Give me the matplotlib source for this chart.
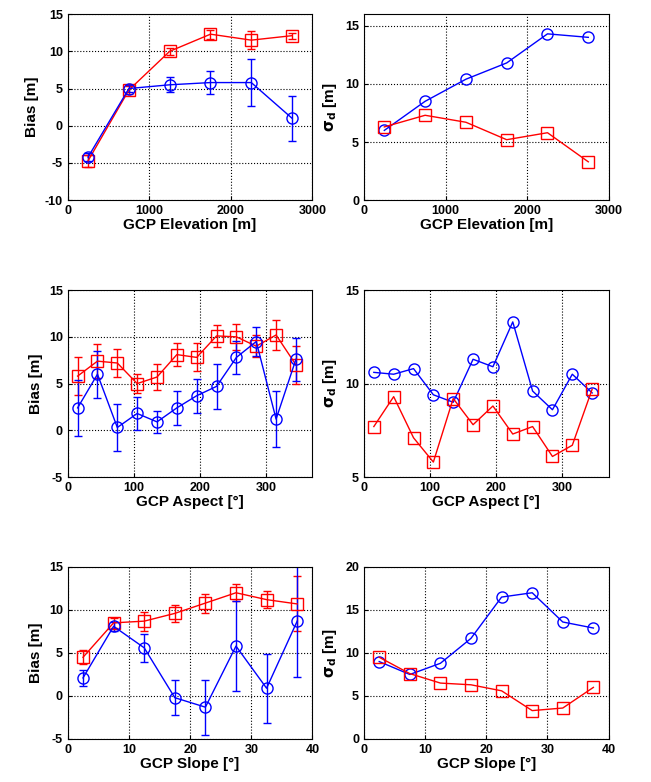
import matplotlib
matplotlib.use("Agg")
from matplotlib import pyplot as plt

plt.rcParams['font.family'] = ['Liberation Sans', 'DejaVu Sans']
plt.rcParams['font.size'] = 9
plt.rcParams['axes.unicode_minus'] = False

elev_x = [250, 750, 1250, 1750, 2250, 2750]
elev_red = [-4.7, 4.8, 10.0, 12.3, 11.5, 12.1]
elev_red_err = [0.8, 0.5, 0.5, 0.6, 1.2, 0.4]
elev_blue = [-4.2, 5.0, 5.5, 5.8, 5.8, 1.0]
elev_blue_err = [0.6, 0.5, 1.0, 1.5, 3.2, 3.0]
elev_sd_blue = [6.0, 8.5, 10.4, 11.8, 14.3, 14.0]
elev_sd_red = [6.3, 7.3, 6.7, 5.2, 5.8, 3.3]

asp_x = [15, 45, 75, 105, 135, 165, 195, 225, 255, 285, 315, 345]
asp_red = [5.8, 7.4, 7.2, 5.0, 5.7, 8.1, 7.8, 10.1, 10.0, 9.0, 10.2, 7.0]
asp_red_err = [2.0, 1.8, 1.5, 1.0, 1.4, 1.2, 1.5, 1.2, 1.4, 1.2, 1.6, 2.0]
asp_blue = [2.4, 6.0, 0.3, 1.8, 0.9, 2.4, 3.7, 4.7, 7.8, 9.5, 1.2, 7.6]
asp_blue_err = [3.0, 2.5, 2.5, 1.8, 1.2, 1.8, 1.8, 2.4, 1.8, 1.6, 3.0, 2.3]
asp_sd_blue = [10.6, 10.5, 10.8, 9.4, 9.0, 11.3, 10.9, 13.3, 9.6, 8.6, 10.5, 9.5]
asp_sd_red = [7.7, 9.3, 7.1, 5.8, 9.2, 7.8, 8.8, 7.3, 7.7, 6.1, 6.7, 9.7]

slp_x = [2.5, 7.5, 12.5, 17.5, 22.5, 27.5, 32.5, 37.5]
slp_red = [4.5, 8.5, 8.7, 9.6, 10.8, 12.0, 11.2, 10.7]
slp_red_err = [0.8, 0.6, 1.1, 1.0, 1.1, 1.0, 1.0, 3.2]
slp_blue = [2.1, 8.1, 5.6, -0.2, -1.3, 5.8, 0.9, 8.7]
slp_blue_err = [0.9, 0.5, 1.6, 2.0, 3.2, 5.2, 4.0, 6.5]
slp_sd_blue = [9.0, 7.5, 8.8, 11.7, 16.5, 17.0, 13.6, 12.9]
slp_sd_red = [9.5, 7.6, 6.5, 6.3, 5.6, 3.3, 3.6, 6.0]

fig = plt.figure(figsize=(6.51, 7.82), dpi=100)
rows = [(0.744, 0.238), (0.39, 0.239), (0.055, 0.22)]
cols = [0.104, 0.559]
w = 0.376


def style(ax, xlabel, ylabel, xlim, ylim, xticks, yticks):
    ax.set_xlim(xlim)
    ax.set_ylim(ylim)
    ax.set_xticks(xticks)
    ax.set_yticks(yticks)
    ax.grid(True, color='black', linestyle=':', linewidth=0.8)
    ax.set_xlabel(xlabel, fontsize=11, fontweight='bold', labelpad=1)
    ax.set_ylabel(ylabel, fontsize=11, fontweight='bold')
    for lbl in ax.get_xticklabels() + ax.get_yticklabels():
        lbl.set_fontweight('bold')
    ax.tick_params(direction='in', length=3)


def bias(ax, x, r, re, b, be):
    ax.errorbar(x, r, yerr=re, color='red', marker='s', mfc='none', ms=8, lw=1, capsize=3)
    ax.errorbar(x, b, yerr=be, color='blue', marker='o', mfc='none', ms=8, lw=1, capsize=3)


def sd(ax, x, r, b):
    ax.plot(x, b, color='blue', marker='o', mfc='none', ms=8, lw=1)
    ax.plot(x, r, color='red', marker='s', mfc='none', ms=8, lw=1)


sig = r'$\mathbf{\sigma_d}$ [m]'
ax = fig.add_axes([cols[0], rows[0][0], w, rows[0][1]])
bias(ax, elev_x, elev_red, elev_red_err, elev_blue, elev_blue_err)
style(ax, 'GCP Elevation [m]', 'Bias [m]', (0, 3000), (-10, 15), range(0, 3001, 1000), range(-10, 16, 5))
ax = fig.add_axes([cols[1], rows[0][0], w, rows[0][1]])
sd(ax, elev_x, elev_sd_red, elev_sd_blue)
style(ax, 'GCP Elevation [m]', sig, (0, 3000), (0, 16), range(0, 3001, 1000), range(0, 16, 5))

ax = fig.add_axes([cols[0], rows[1][0], w, rows[1][1]])
bias(ax, asp_x, asp_red, asp_red_err, asp_blue, asp_blue_err)
style(ax, 'GCP Aspect [°]', 'Bias [m]', (0, 370), (-5, 15), range(0, 301, 100), range(-5, 16, 5))
ax = fig.add_axes([cols[1], rows[1][0], w, rows[1][1]])
sd(ax, asp_x, asp_sd_red, asp_sd_blue)
style(ax, 'GCP Aspect [°]', sig, (0, 370), (5, 15), range(0, 301, 100), range(5, 16, 5))

ax = fig.add_axes([cols[0], rows[2][0], w, rows[2][1]])
bias(ax, slp_x, slp_red, slp_red_err, slp_blue, slp_blue_err)
style(ax, 'GCP Slope [°]', 'Bias [m]', (0, 40), (-5, 15), range(0, 41, 10), range(-5, 16, 5))
ax = fig.add_axes([cols[1], rows[2][0], w, rows[2][1]])
sd(ax, slp_x, slp_sd_red, slp_sd_blue)
style(ax, 'GCP Slope [°]', sig, (0, 40), (0, 20), range(0, 41, 10), range(0, 21, 5))

fig.savefig('out.png', dpi=100)
